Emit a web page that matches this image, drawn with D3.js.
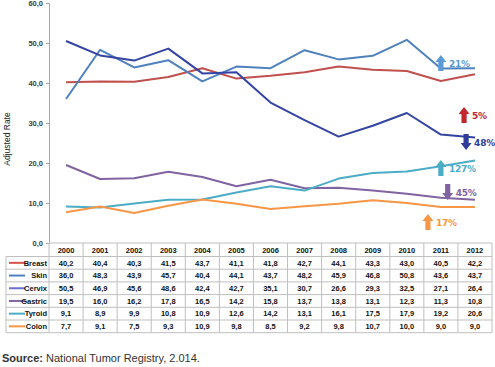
<!DOCTYPE html>
<html><head><meta charset="utf-8">
<script src="https://cdn.jsdelivr.net/npm/d3@7"></script>
<style>
body{margin:0;background:#fff;}
svg{display:block;}
</style></head>
<body>
<svg id="c" width="495" height="367"></svg>
<script>
const years = [2000,2001,2002,2003,2004,2005,2006,2007,2008,2009,2010,2011,2012];
const seriesNames = ["Breast","Skin","Cervix","Gastric","Tyroid","Colon"];
const breast  = [40.2,40.4,40.3,41.5,43.7,41.1,41.8,42.7,44.1,43.3,43.0,40.5,42.2];
const skin    = [36.0,48.3,43.9,45.7,40.4,44.1,43.7,48.2,45.9,46.8,50.8,43.6,43.7];
const cervix  = [50.5,46.9,45.6,48.6,42.4,42.7,35.1,30.7,26.6,29.3,32.5,27.1,26.4];
const gastric = [19.5,16.0,16.2,17.8,16.5,14.2,15.8,13.7,13.8,13.1,12.3,11.3,10.8];
const tyroid  = [9.1,8.9,9.9,10.8,10.9,12.6,14.2,13.1,16.1,17.5,17.9,19.2,20.6];
const colon   = [7.7,9.1,7.5,9.3,10.9,9.8,8.5,9.2,9.8,10.7,10.0,9.0,9.0];
const seriesColors = ["#c0504d","#4f81bd","#3344a2","#8064a2","#4bacc6","#f79646"];
const legendColors = ["#d9534f","#4f81bd","#6b6fd0","#8064a2","#4bacc6","#f79646"];
const yTicks = [0,10,20,30,40,50,60];
const annLabels = ["21%","5%","48%","127%","45%","17%"];
const annDir    = ["up","up","down","up","down","up"];
const annYear   = [2011,2011.68,2011.74,2011,2011.2,2010.62];
const annValue  = [45.0,32.0,25.25,18.75,12.75,5.25];
const annColors = ["#5b9bd5","#c0282d","#2f3c9a","#4bacc6","#8064a2","#f79646"];

(function(){
const allSeries = [breast,skin,cervix,gastric,tyroid,colon];
const svg = d3.select("#c");
const pL = 49, pR = 492, pT = 3, pB = 243;

const x = d3.scaleBand().domain(years).range([pL,pR]);
const xc = d3.scaleLinear().domain([2000,2012]).range([x(2000)+x.bandwidth()/2, x(2012)+x.bandwidth()/2]);
const y = d3.scaleLinear().domain([0,60]).range([pB,pT]);

const loc = d3.formatLocale({decimal:",",thousands:".",grouping:[3],currency:["",""]});
const f1 = loc.format(".1f");

const ya = svg.append("g").attr("transform",`translate(${pL},0)`)
  .call(d3.axisLeft(y).tickValues(yTicks).tickFormat(f1).tickSize(3).tickPadding(3));
ya.select(".domain").attr("stroke","#a6a6a6");
ya.selectAll(".tick line").attr("stroke","#a6a6a6");
ya.selectAll("text").attr("font-family","Liberation Sans, Arial").attr("font-size","7.5px")
  .attr("font-weight","bold").attr("fill","#404040");

svg.append("text").attr("transform","translate(10,139) rotate(-90)")
  .attr("text-anchor","middle").attr("font-family","Liberation Sans Narrow, Liberation Sans, Arial")
  .attr("font-size","8.5px").attr("fill","#222").text("Adjusted Rate");

const line = d3.line().x((d,i)=>xc(years[i])).y(d=>y(d));
allSeries.forEach((s,k)=>{
  svg.append("path").datum(s).attr("d",line).attr("fill","none")
    .attr("stroke",seriesColors[k]).attr("stroke-width",2).attr("stroke-linejoin","round");
});

annLabels.forEach((lab,i)=>{
  const cx = xc(annYear[i]), cy = y(annValue[i]);
  const h = 16, sw = 2.6, hw = 5.5, hh = 7;
  const s = annDir[i]==="up" ? -1 : 1;
  const tip = cy + s*h/2, base = cy - s*h/2, neck = tip - s*hh;
  const pts = [[cx-sw,base],[cx-sw,neck],[cx-hw,neck],[cx,tip],[cx+hw,neck],[cx+sw,neck],[cx+sw,base]];
  svg.append("path").attr("d","M"+pts.map(p=>p.join(",")).join("L")+"Z").attr("fill",annColors[i]);
  svg.append("text").attr("x",cx+8).attr("y",cy+1).attr("dominant-baseline","middle")
    .attr("font-family","DejaVu Sans, Verdana").attr("font-weight","bold").attr("font-size","9px")
    .attr("letter-spacing","-0.2px")
    .attr("fill",annColors[i]).text(lab);
});

const rowH = 12.7, headTop = pB, headH = 13.5;
const grid = "#bfbfbf";
const tg = svg.append("g");
const tableBottom = headTop + headH + rowH*seriesNames.length;
tg.append("line").attr("x1",pL).attr("x2",pR).attr("y1",headTop).attr("y2",headTop).attr("stroke",grid);
for(let r=0;r<=seriesNames.length;r++){
  const yy = headTop+headH+r*rowH;
  tg.append("line").attr("x1",6).attr("x2",pR).attr("y1",yy).attr("y2",yy).attr("stroke",grid);
}
years.forEach(yr=>{
  tg.append("line").attr("x1",x(yr)).attr("x2",x(yr)).attr("y1",headTop).attr("y2",tableBottom).attr("stroke",grid);
});
tg.append("line").attr("x1",pR).attr("x2",pR).attr("y1",headTop).attr("y2",tableBottom).attr("stroke",grid);
tg.append("line").attr("x1",6).attr("x2",6).attr("y1",headTop+headH).attr("y2",tableBottom).attr("stroke",grid);

const tf = t=>t.attr("font-family","Liberation Sans, Arial").attr("font-size","7.5px").attr("font-weight","bold").attr("fill","#111");
years.forEach(yr=>{
  tg.append("text").attr("x",x(yr)+x.bandwidth()/2).attr("y",headTop+headH/2+3.5)
    .attr("text-anchor","middle").text(yr).call(tf);
});
seriesNames.forEach((nm,r)=>{
  const cy = headTop+headH+r*rowH+rowH/2;
  tg.append("line").attr("x1",9).attr("x2",25).attr("y1",cy).attr("y2",cy)
    .attr("stroke",legendColors[r]).attr("stroke-width",2);
  tg.append("text").attr("x",47).attr("y",cy+2.7).attr("text-anchor","end").text(nm).call(tf);
  allSeries[r].forEach((v,i)=>{
    tg.append("text").attr("x",x(years[i])+x.bandwidth()/2).attr("y",cy+2.7)
      .attr("text-anchor","middle").text(f1(v)).call(tf);
  });
});

const st = svg.append("text").attr("x",2).attr("y",362).attr("font-family","Liberation Sans, Arial")
  .attr("font-size","11px").attr("fill","#333");
st.append("tspan").attr("font-weight","bold").text("Source:");
st.append("tspan").text(" National Tumor Registry, 2.014.");
})();
</script>
</body></html>
